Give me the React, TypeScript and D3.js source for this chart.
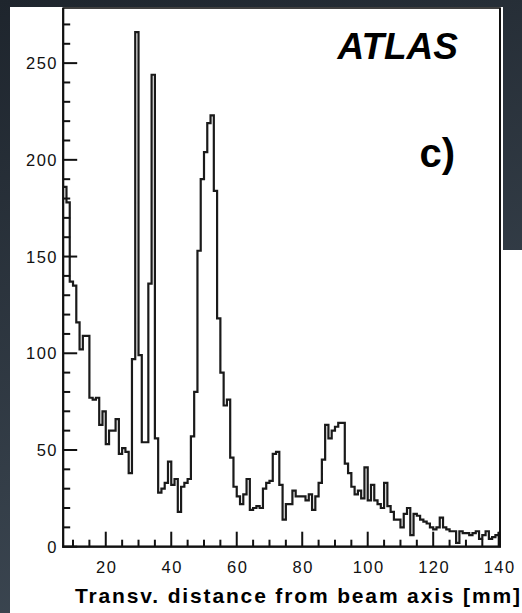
import React from 'react';
import * as d3 from 'd3';

// Histogram: 1 mm bins, first bin starts at 7 mm
const binStart = 7;
const binWidth = 1;
const counts = [
  186, 178, 137, 135, 116, 102, 109, 109, 77, 76,
  77, 63, 70, 53, 60, 60, 66, 48, 51, 49,
  38, 97, 266, 99, 54, 54, 136, 244, 56, 28,
  30, 33, 44, 32, 35, 18, 31, 33, 35, 57,
  80, 153, 190, 204, 219, 223, 184, 118, 90, 73,
  76, 46, 31, 26, 22, 27, 35, 19, 20, 21,
  20, 30, 33, 34, 48, 49, 32, 14, 22, 22,
  29, 26, 26, 26, 24, 27, 19, 26, 33, 45,
  63, 56, 60, 62, 64, 64, 43, 38, 31, 27,
  29, 25, 41, 24, 32, 24, 22, 20, 33, 21,
  18, 14, 14, 10, 17, 20, 6, 17, 16, 14,
  13, 12, 10, 9, 10, 15, 10, 9, 8, 8,
  2, 8, 7, 7, 6, 7, 8, 4, 6, 8,
  4, 5, 6, 7,
];

const xDomain = [7, 140.4];
const yDomain = [0, 278.5];
const xMajorTicks = [20, 40, 60, 80, 100, 120, 140];
const xTickLabels = ['20', '40', '60', '80', '100', '120', '140'];
const xMinorTicks = d3.range(10, 141, 5).filter((v) => v % 20 !== 0);
const yMajorTicks = [0, 50, 100, 150, 200, 250];
const yTickLabels = ['0', '50', '100', '150', '200', '250'];
const yMinorTicks = d3.range(10, 271, 10).filter((v) => v % 50 !== 0);
const xTitle = 'Transv. distance from beam axis [mm]';
const experiment = 'ATLAS';
const panelLabel = 'c)';

const W = 522;
const H = 613;
const frame = { left: 63.2, right: 500, top: 8, bottom: 546.7 };

export default function App() {
  const x = d3.scaleLinear().domain(xDomain).range([frame.left, frame.right]);
  const y = d3.scaleLinear().domain(yDomain).range([frame.bottom, frame.top]);

  const pts: [number, number][] = counts.map((c, i) => [binStart + i * binWidth, c]);
  pts.push([binStart + counts.length * binWidth, counts[counts.length - 1]]);
  const line = d3
    .line<[number, number]>()
    .x((d) => x(d[0]))
    .y((d) => y(d[1]))
    .curve(d3.curveStepAfter);
  const pathD = line(pts) || '';

  const font = "'Liberation Sans', Arial, Helvetica, sans-serif";

  return (
    <svg
      width={W}
      height={H}
      style={{ position: 'absolute', left: 0, top: 0, display: 'block' }}
    >
      <defs>
        <linearGradient id="bg" x1="0" y1="0" x2="0.3" y2="1">
          <stop offset="0" stopColor="#1e252d" />
          <stop offset="1" stopColor="#3c4752" />
        </linearGradient>
        <clipPath id="frameClip">
          <rect
            x={frame.left}
            y={frame.top}
            width={frame.right - frame.left}
            height={frame.bottom - frame.top}
          />
        </clipPath>
      </defs>
      <rect x={0} y={0} width={W} height={H} fill="url(#bg)" />
      <rect x={10} y={7} width={493} height={H - 7} fill="#ffffff" />
      <rect x={503} y={250} width={W - 503} height={H - 250} fill="#ffffff" />

      {/* histogram */}
      <g clipPath="url(#frameClip)">
        <path d={pathD} fill="none" stroke="#1a1a1a" strokeWidth={2.2} />
      </g>

      {/* frame */}
      <rect
        x={frame.left}
        y={frame.top}
        width={frame.right - frame.left}
        height={frame.bottom - frame.top}
        fill="none"
        stroke="#111"
        strokeWidth={1.6}
      />
      <line x1={frame.left} x2={frame.left} y1={frame.top} y2={frame.bottom + 1} stroke="#111" strokeWidth={2.2} />
      <line x1={frame.left - 1} x2={frame.right + 1} y1={frame.bottom} y2={frame.bottom} stroke="#111" strokeWidth={2.2} />
      <line x1={frame.right} x2={frame.right} y1={frame.top} y2={frame.bottom} stroke="#111" strokeWidth={2} />

      {/* y ticks */}
      {yMajorTicks.map((v) => (
        <line key={'ym' + v} x1={frame.left} x2={frame.left + 14} y1={y(v)} y2={y(v)} stroke="#111" strokeWidth={2} />
      ))}
      {yMinorTicks.map((v) => (
        <line key={'yn' + v} x1={frame.left} x2={frame.left + 7} y1={y(v)} y2={y(v)} stroke="#111" strokeWidth={2} />
      ))}
      {yMajorTicks.map((v, i) => (
        <text
          key={'yl' + v}
          x={58}
          y={y(v) + 6}
          textAnchor="end"
          fontFamily={font}
          fontSize={16.5}
          letterSpacing={1.5}
          fill="#111"
        >
          {yTickLabels[i]}
        </text>
      ))}

      {/* x ticks */}
      {xMajorTicks.map((v) => (
        <line key={'xm' + v} x1={x(v)} x2={x(v)} y1={frame.bottom} y2={frame.bottom - 15} stroke="#111" strokeWidth={2} />
      ))}
      {xMinorTicks.map((v) => (
        <line key={'xn' + v} x1={x(v)} x2={x(v)} y1={frame.bottom} y2={frame.bottom - 7} stroke="#111" strokeWidth={2} />
      ))}
      {xMajorTicks.map((v, i) => (
        <text
          key={'xl' + v}
          x={x(v) + 1}
          y={573}
          textAnchor="middle"
          fontFamily={font}
          fontSize={16.5}
          letterSpacing={1.5}
          fill="#111"
        >
          {xTickLabels[i]}
        </text>
      ))}

      {/* axis title */}
      <text
        x={75}
        y={603}
        fontFamily={font}
        fontWeight="bold"
        fontSize={21}
        textLength={445}
        lengthAdjust="spacing"
        fill="#000"
      >
        {xTitle}
      </text>

      {/* labels */}
      <text
        x={458}
        y={59}
        textAnchor="end"
        fontFamily={font}
        fontWeight="bold"
        fontStyle="italic"
        fontSize={37}
        fill="#000"
      >
        {experiment}
      </text>
      <text
        x={455}
        y={167}
        textAnchor="end"
        fontFamily={font}
        fontWeight="bold"
        fontSize={40}
        fill="#000"
      >
        {panelLabel}
      </text>
    </svg>
  );
}
